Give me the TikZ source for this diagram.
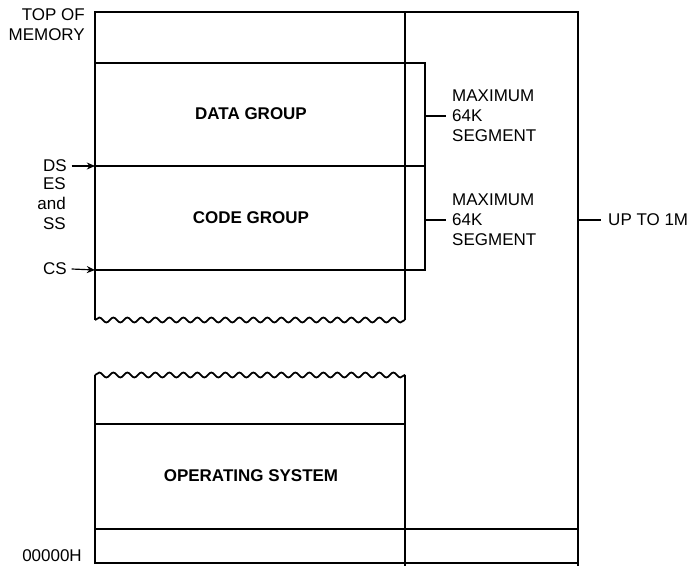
\documentclass[tikz,border=0pt]{standalone}
\usepackage{fontspec}
\setmainfont{Liberation Sans}
\usetikzlibrary{arrows.meta,decorations.pathmorphing}

\begin{document}
\begin{tikzpicture}[x=0.03cm,y=-0.03cm,
    wall/.style={line width=1.6pt},
    torn/.style={line width=1.5pt,decorate,
      decoration={snake,amplitude=0.075cm,segment length=0.42cm}},
    lbl/.style={font=\fontsize{14.5}{17}\selectfont,inner sep=0pt},
    grp/.style={font=\fontsize{14.5}{17}\selectfont\bfseries,inner sep=0pt},
    ptr/.style={line width=1pt,-{Stealth[length=7pt,width=6pt]}}]
    \useasboundingbox (0,0) rectangle (694,566);
    % upper block of memory, torn off at the bottom
    \draw[wall] (95,320) -- (95,12) -- (578,12) -- (578,566);
    \draw[wall] (405,12) -- (405,320);
    \draw[torn] (95,320) -- (405,320);
    % segment boundaries and the 64K bracket
    \draw[wall] (95,63) -- (425,63) -- (425,270) -- (95,270);
    \draw[wall] (95,166) -- (425,166);
    \coordinate (dsline) at (95,166);
    \coordinate (csline) at (95,270);
    % lower block: operating system
    \draw[torn] (95,375) -- (405,375);
    \draw[wall] (95,375) -- (95,563) -- (578,563);
    \draw[wall] (405,375) -- (405,566);
    \draw[wall] (95,424) -- (405,424);
    \draw[wall] (95,529) -- (578,529);
    % ticks
    \draw[wall] (425,116) -- (446,116);
    \draw[wall] (425,220) -- (446,220);
    \draw[wall] (578,220) -- (601,220);
    % labels
    \node[lbl,align=right,anchor=east] (top) at (85,24.5) {TOP OF\\MEMORY};
    \node[lbl,anchor=east] (ds) at (67,166) {DS};
    \node[lbl,align=right,anchor=east] (esss) at (66,204) {ES\\and\\SS};
    \node[lbl,anchor=east] (cs) at (67,269) {CS};
    \node[lbl,anchor=east] (base) at (82,556) {00000H};
    \draw[ptr] ([xshift=4pt]ds.east) -- (dsline);
    \draw[ptr] ([xshift=4pt]cs.east) -- (csline);
    \node[grp] (data) at (251,114) {DATA GROUP};
    \node[grp] (code) at (251,218) {CODE GROUP};
    \node[grp] (os) at (251,476) {OPERATING SYSTEM};
    \node[lbl,align=left,anchor=west] (max1) at (452,116) {MAXIMUM\\64K\\SEGMENT};
    \node[lbl,align=left,anchor=west] (max2) at (452,220) {MAXIMUM\\64K\\SEGMENT};
    \node[lbl,anchor=west] (upto) at (608,220) {UP TO 1M};
\end{tikzpicture}
\end{document}
